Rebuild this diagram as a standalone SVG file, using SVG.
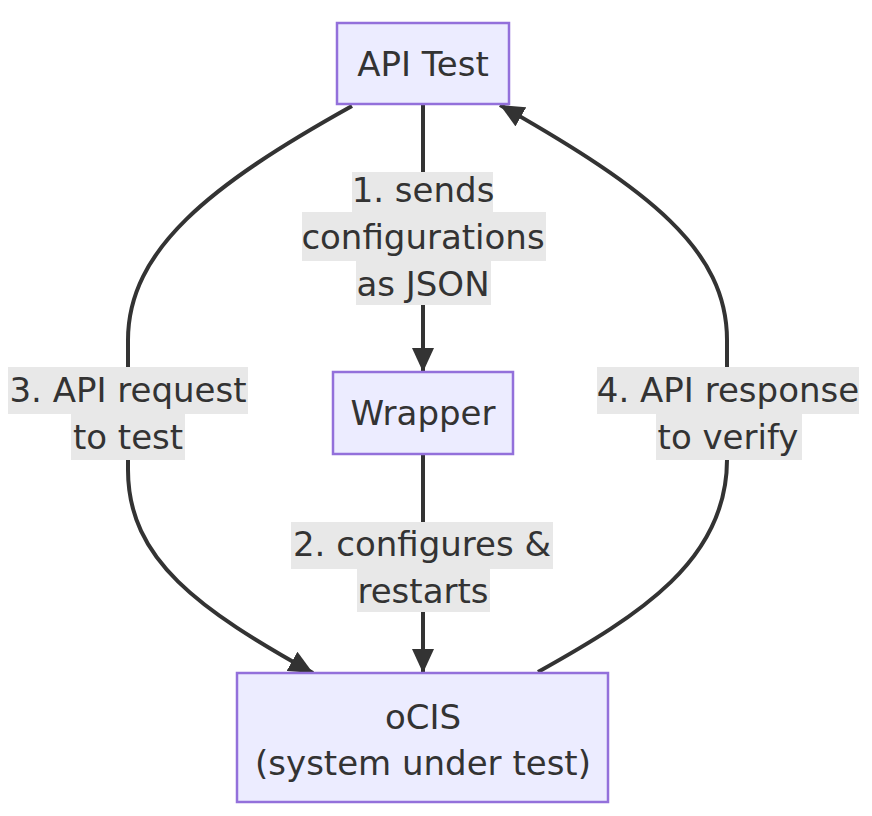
<svg xmlns="http://www.w3.org/2000/svg" width="872" height="816" viewBox="0 0 872 816">
<defs>
<style>
.node rect{fill:#ECECFF;stroke:#9370DB;stroke-width:2.5}
.t{font-family:"DejaVu Sans",Verdana,sans-serif;font-size:34px;fill:#333;text-anchor:middle}
.edge{fill:none;stroke:#333;stroke-width:4}
.lbg{fill:#e8e8e8}
</style>
<marker id="ah" markerUnits="userSpaceOnUse" markerWidth="26" markerHeight="22" refX="24" refY="11" orient="auto">
<path d="M0,0 L24,11 L0,22 Z" fill="#333"/>
</marker>
</defs>
<rect width="872" height="816" fill="#fff"/>
<g id="connectors">
<path class="edge" d="M423,105 L423,372" marker-end="url(#ah)"/>
<path class="edge" d="M423,455 L423,673" marker-end="url(#ah)"/>
<path class="edge" d="M352,106 C210,185 128,250 128,340 L128,470 C128,560 200,610 313,673" marker-end="url(#ah)"/>
<path class="edge" d="M538,672 C640,615 727,560 727,460 L727,340 C727,250 650,190 500,105" marker-end="url(#ah)"/>
</g>
<g id="edge-labels">
<rect class="lbg" x="352" y="172" width="141" height="41"/>
<rect class="lbg" x="302" y="212" width="244" height="49"/>
<rect class="lbg" x="356" y="260" width="135" height="45"/>
<text class="t" x="423" y="202">1. sends</text>
<text class="t" x="423" y="249">configurations</text>
<text class="t" x="423" y="296">as JSON</text>
<rect class="lbg" x="291" y="522" width="262" height="47"/>
<rect class="lbg" x="357" y="568" width="133" height="44"/>
<text class="t" x="422" y="556">2. configures &amp;</text>
<text class="t" x="423" y="603">restarts</text>
<rect class="lbg" x="8" y="367" width="240" height="47"/>
<rect class="lbg" x="71" y="413" width="114" height="47"/>
<text class="t" x="128" y="402">3. API request</text>
<text class="t" x="128" y="449">to test</text>
<rect class="lbg" x="597" y="367" width="262" height="47"/>
<rect class="lbg" x="656" y="413" width="146" height="47"/>
<text class="t" x="728" y="402">4. API response</text>
<text class="t" x="728" y="449">to verify</text>
</g>
<g id="api-test" class="node">
<rect x="337" y="23" width="172" height="81"/>
<text class="t" x="423" y="76">API Test</text>
</g>
<g id="wrapper" class="node">
<rect x="333" y="372" width="180" height="82"/>
<text class="t" x="423" y="425">Wrapper</text>
</g>
<g id="ocis" class="node">
<rect x="237" y="673" width="371" height="129"/>
<text class="t" x="423" y="729">oCIS</text>
<text class="t" x="423" y="775">(system under test)</text>
</g>
</svg>
